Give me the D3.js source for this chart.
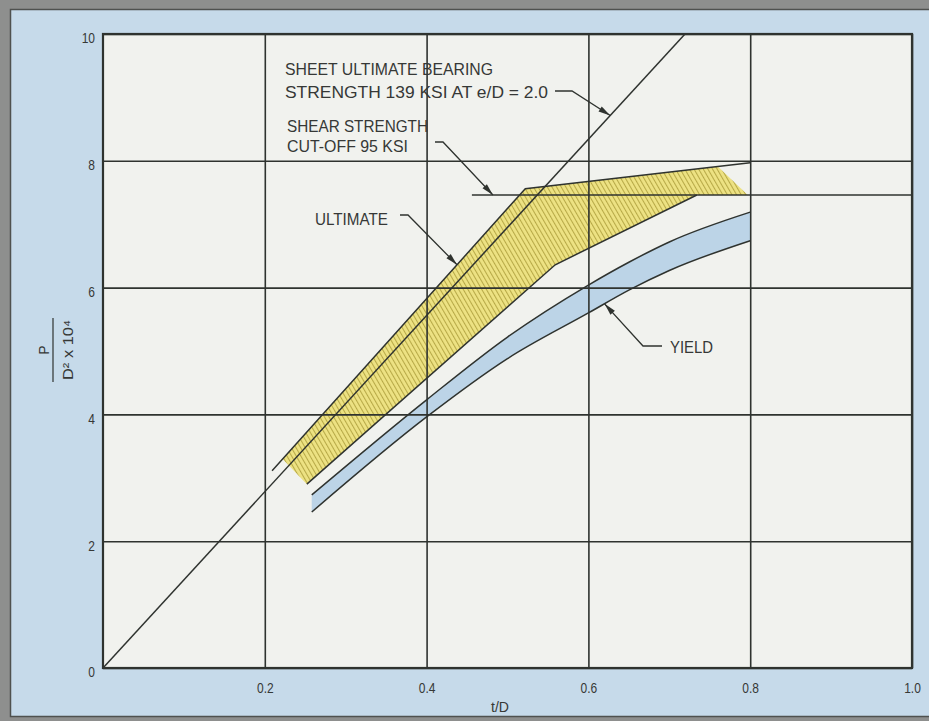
<!DOCTYPE html>
<html>
<head>
<meta charset="utf-8">
<script src="https://cdn.jsdelivr.net/npm/d3@7"></script>
<style>
  html, body { margin: 0; padding: 0; background: #8e8f8e; }
  svg { display: block; }
</style>
</head>
<body>
<svg id="chart" width="929" height="721"></svg>
<script>
// ---- Axis ticks ----
const xTicks = [0.2, 0.4, 0.6, 0.8, 1.0];
const yTicks = [0, 2, 4, 6, 8, 10];

// ---- Sheet ultimate bearing strength (ksi): P/D² = F_br · t/D, in units of 10⁴ ----
const bearingKsi = 139;
// ---- Shear strength cut-off (ksi): P/D² = F_su · π/4, in units of 10⁴ ----
const shearKsi = 95;
const shearStart = 0.456;            // t/D where the cut-off line begins

// ---- Ultimate band (t/D, P/D²×10⁴) ----
const ultimateUpper = [[0.209, 3.11], [0.522, 7.56], [0.80, 7.97]];
const ultimateLower = [[0.252, 2.90], [0.559, 6.36], [0.734, 7.46]];
const ultimateFillEnds = [0.222, 0.760, 0.797]; // shaded region: start, top-right corner, bottom-right corner

// ---- Yield band ----
const yieldT     = [0.258, 0.40, 0.50, 0.60, 0.65, 0.70, 0.80];
const yieldUpper = [2.73, 4.23, 5.22, 6.04, 6.40, 6.72, 7.19];
const yieldLower = [2.46, 3.96, 4.88, 5.60, 5.96, 6.27, 6.74];

// ---- Layout ----
const W = 929, H = 721;
const plot = { left: 103, top: 34, right: 912, bottom: 668 };
const FONT = '"Liberation Sans Narrow", "Liberation Sans", Arial, sans-serif';
const INK = '#2f332f';
const TEXT = '#363836';

const bearingSlope = bearingKsi / 10;
const shearLevel = shearKsi * Math.PI / 4 / 10;

const x = d3.scaleLinear().domain([0, 1]).range([plot.left, plot.right]);
const y = d3.scaleLinear().domain([0, 10]).range([plot.bottom, plot.top]);

const svg = d3.select('#chart');
const defs = svg.append('defs');

// hatch used for the ultimate band
const pat = defs.append('pattern')
  .attr('id', 'hatch')
  .attr('patternUnits', 'userSpaceOnUse')
  .attr('width', 4).attr('height', 4)
  .attr('patternTransform', 'rotate(-30)');
pat.append('rect').attr('width', 4).attr('height', 4).attr('fill', '#ede283');
pat.append('line').attr('x1', 0.5).attr('y1', 0).attr('x2', 0.5).attr('y2', 4)
  .attr('stroke', '#b7a947').attr('stroke-width', 1.1);

// background and panel
svg.append('rect').attr('width', W).attr('height', H).attr('fill', '#8e8f8e');
svg.append('rect')
  .attr('x', 10.5).attr('y', 9.5).attr('width', W).attr('height', 707)
  .attr('fill', '#c6daea').attr('stroke', '#4f514f').attr('stroke-width', 1.5);

// plot face
svg.append('rect')
  .attr('x', plot.left).attr('y', plot.top)
  .attr('width', plot.right - plot.left).attr('height', plot.bottom - plot.top)
  .attr('fill', '#f1f2ee');

// helpers
function interp(pts, t) {
  for (let i = 0; i < pts.length - 1; i++) {
    const [t0, p0] = pts[i], [t1, p1] = pts[i + 1];
    if (t >= t0 && t <= t1) return p0 + (p1 - p0) * (t - t0) / (t1 - t0);
  }
  return t < pts[0][0] ? pts[0][1] : pts[pts.length - 1][1];
}
const line = d3.line().x(d => x(d[0])).y(d => y(d[1]));
const curve = d3.line().x(d => x(d[0])).y(d => y(d[1])).curve(d3.curveMonotoneX);

// ---- Ultimate band fill ----
const [fillStart, fillTop, fillBottom] = ultimateFillEnds;
const ultFill = [[fillStart, interp(ultimateUpper, fillStart)]]
  .concat(ultimateUpper.filter(d => d[0] > fillStart && d[0] < fillTop))
  .concat([[fillTop, interp(ultimateUpper, fillTop)], [fillBottom, shearLevel]])
  .concat(ultimateLower.slice().reverse());
svg.append('path')
  .attr('d', line(ultFill) + 'Z')
  .attr('fill', 'url(#hatch)');

// ---- Yield band fill ----
const yieldRows = yieldT.map((t, i) => ({ t, hi: yieldUpper[i], lo: yieldLower[i] }));
svg.append('path')
  .datum(yieldRows)
  .attr('d', d3.area().x(d => x(d.t)).y0(d => y(d.lo)).y1(d => y(d.hi)).curve(d3.curveMonotoneX))
  .attr('fill', '#bcd4e7');

// ---- Grid (axes) ----
const gx = svg.append('g')
  .attr('transform', `translate(0,${plot.bottom})`)
  .call(d3.axisBottom(x).tickValues(xTicks)
    .tickSize(-(plot.bottom - plot.top)).tickPadding(14)
    .tickFormat(d3.format('.1f')));
const gy = svg.append('g')
  .attr('transform', `translate(${plot.left},0)`)
  .call(d3.axisLeft(y).tickValues(yTicks)
    .tickSize(-(plot.right - plot.left)).tickPadding(8)
    .tickFormat(d3.format('d')));
[gx, gy].forEach(g => {
  g.select('.domain').remove();
  g.selectAll('.tick line').attr('stroke', INK).attr('stroke-width', 1.6);
  g.selectAll('.tick text')
    .attr('font-family', FONT).attr('font-size', 15).attr('fill', TEXT)
    .each(function () {
      const len = this.getComputedTextLength();
      d3.select(this).attr('textLength', len * 0.8).attr('lengthAdjust', 'spacingAndGlyphs');
    });
});
gy.selectAll('.tick text').attr('y', 4);

// ---- Data lines ----
const strokeLine = (d, fn) => svg.append('path').attr('d', fn(d))
  .attr('fill', 'none').attr('stroke', INK).attr('stroke-width', 1.5);

strokeLine([[0, 0], [10 / bearingSlope, 10]], line);
strokeLine([[shearStart, shearLevel], [1, shearLevel]], line);
strokeLine(ultimateUpper, line);
strokeLine(ultimateLower, line);
strokeLine(yieldRows.map(d => [d.t, d.hi]), curve);
strokeLine(yieldRows.map(d => [d.t, d.lo]), curve);

// plot border
svg.append('rect')
  .attr('x', plot.left).attr('y', plot.top)
  .attr('width', plot.right - plot.left).attr('height', plot.bottom - plot.top)
  .attr('fill', 'none').attr('stroke', INK).attr('stroke-width', 2.2);

// ---- Annotations ----
const ann = svg.append('g');
function text(str, x0, yb, width, size = 17) {
  const t = ann.append('text')
    .attr('x', x0).attr('y', yb)
    .attr('font-family', FONT).attr('font-size', size)
    .attr('fill', TEXT).text(str);
  if (width) t.attr('textLength', width).attr('lengthAdjust', 'spacingAndGlyphs');
  return t;
}
function leader(pts) {
  ann.append('path').attr('d', d3.line()(pts))
    .attr('fill', 'none').attr('stroke', INK).attr('stroke-width', 1.3);
  const [tx, ty] = pts[pts.length - 1];
  const [px, py] = pts[pts.length - 2];
  const a = Math.atan2(ty - py, tx - px);
  const L = 12, hw = 3;
  const bx = tx - L * Math.cos(a), by = ty - L * Math.sin(a);
  const nx = -Math.sin(a) * hw, ny = Math.cos(a) * hw;
  ann.append('path')
    .attr('d', `M${tx},${ty}L${bx + nx},${by + ny}L${bx - nx},${by - ny}Z`)
    .attr('fill', INK);
}

text('SHEET ULTIMATE BEARING', 285, 75, 208);
text(`STRENGTH ${bearingKsi} KSI AT e/D = 2.0`, 285, 98, 263);
const tb = 0.627;
leader([[555, 91], [572, 91], [x(tb), y(bearingSlope * tb)]]);

text('SHEAR STRENGTH', 287, 132, 141);
text(`CUT-OFF ${shearKsi} KSI`, 287, 152, 121);
leader([[435, 142], [443, 142], [x(0.482), y(shearLevel)]]);

text('ULTIMATE', 315, 225, 73);
const tu = 0.4376;
leader([[400, 215], [408, 215], [x(tu), y(interp(ultimateUpper, tu))]]);

text('YIELD', 670, 353, 43);
const ty = 0.62;
leader([[662, 346], [643, 346], [x(ty), y(interp(yieldT.map((t, i) => [t, yieldLower[i]]), ty))]]);

// ---- Axis titles ----
svg.append('text')
  .attr('x', 500).attr('y', 712).attr('text-anchor', 'middle')
  .attr('font-family', FONT).attr('font-size', 15).attr('fill', TEXT)
  .attr('textLength', 18).attr('lengthAdjust', 'spacingAndGlyphs')
  .text('t/D');

const yt = svg.append('g').attr('transform', 'translate(53,350) rotate(-90)');
yt.append('line').attr('x1', -32).attr('x2', 32).attr('y1', 0).attr('y2', 0)
  .attr('stroke', INK).attr('stroke-width', 1.2);
yt.append('text').attr('x', 0).attr('y', -4).attr('text-anchor', 'middle')
  .attr('font-family', FONT).attr('font-size', 14).attr('fill', TEXT).text('P');
yt.append('text').attr('x', 0).attr('y', 20).attr('text-anchor', 'middle')
  .attr('font-family', FONT).attr('font-size', 14).attr('fill', TEXT)
  .attr('textLength', 60).attr('lengthAdjust', 'spacingAndGlyphs')
  .text('D² x 10⁴');
</script>
</body>
</html>
